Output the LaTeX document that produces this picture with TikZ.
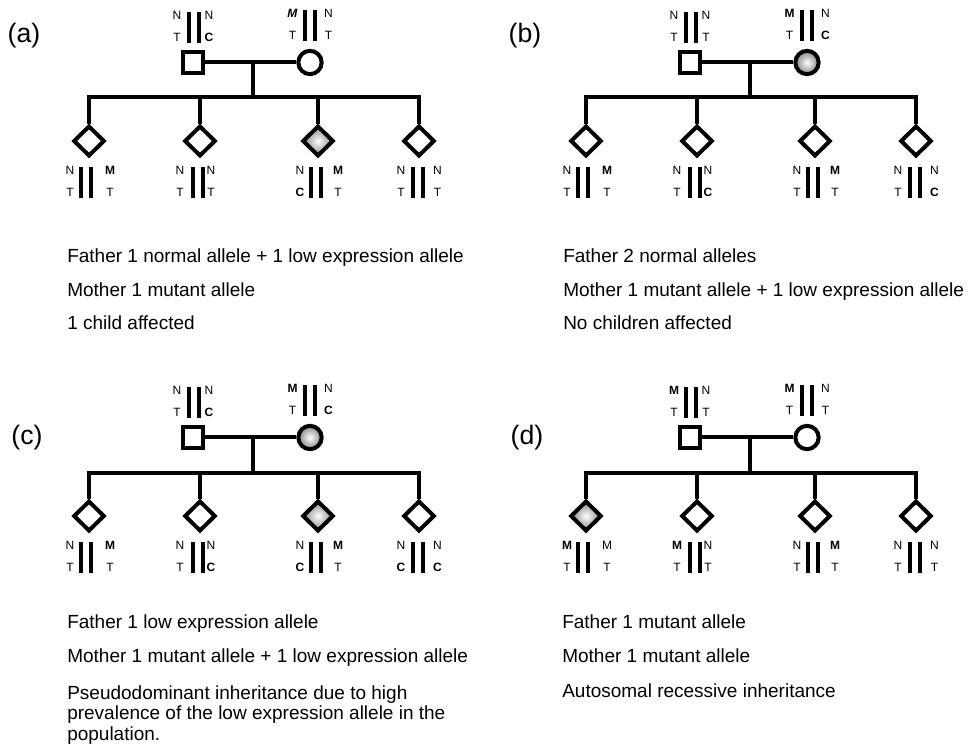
\documentclass[tikz,border=0pt]{standalone}
\usepackage{fontspec}
\setmainfont{Liberation Sans}
\usepackage{tikz}
\usetikzlibrary{positioning,shapes.geometric}

% chromosome pair: name, bar centre x, bar top y, left label x, right label x, TL, BL, TR, BR
\newcommand{\chrom}[9]{%
  \fill ({#2-7},#3) rectangle ({#2-3},{#3+31});
  \fill ({#2+3},#3) rectangle ({#2+7},{#3+31});
  \node[allele] (#1tl) at (#4,{#3+3.5}) {#6};
  \node[allele] (#1bl) at (#4,{#3+25.5}) {#7};
  \node[allele] (#1tr) at (#5,{#3+3.5}) {#8};
  \node[allele] (#1br) at (#5,{#3+25.5}) {#9};
}

\tikzset{
  male/.style={draw, line width=3pt, rectangle, minimum size=15.5pt, inner sep=0pt},
  female/.style={draw, line width=3pt, circle, minimum size=17.5pt, inner sep=0pt},
  child/.style={draw, line width=3pt, diamond, aspect=1, minimum width=23.5pt, minimum height=23pt, inner sep=0pt},
  affected/.style={inner color=white, outer color=gray!95},
  ped/.style={line width=3pt},
  allele/.style={font=\fontsize{9}{10}\selectfont, inner sep=0pt},
  note/.style={font=\fontsize{14.25}{15.6}\selectfont, anchor=base west, inner sep=0pt, align=left},
  panel/.style={font=\fontsize{20}{24}\selectfont, inner sep=0pt},
}

\begin{document}
\begin{tikzpicture}[x=0.75pt, y=-0.75pt]
    \useasboundingbox (0,0) rectangle (971,748);

    % panel (a)
    \node[panel] (aLabel) at (24,36) {(a)};
    \begin{scope}[shift={(0,0)}]
        \node[male] (aF) at (193,62.5) {};
        \node[female] (aM) at (310,62.5) {};
        \coordinate (aMid) at (253,62.5);
        \coordinate (aSib) at (253,97.5);
        \node[child] (aC1) at (89,141) {};
        \node[child] (aC2) at (200,141) {};
        \node[child, affected] (aC3) at (318,141) {};
        \node[child] (aC4) at (419,141) {};
        \draw[ped] (aF) -- (aM);
        \draw[ped] (aMid) -- (aSib);
        \draw[ped] (aC1) -- (aC1 |- aSib) -- (aC4 |- aSib) -- (aC4);
        \draw[ped] (aC2 |- aSib) -- (aC2);
        \draw[ped] (aC3 |- aSib) -- (aC3);
        \chrom{aFg}{194}{12}{177}{209}{N}{T}{N}{\textbf{C}}
        \chrom{aMg}{309.5}{10}{292.5}{328.5}{\textbf{\textit{M}}}{T}{N}{T}
        \chrom{aC1g}{85.5}{167}{70}{110}{N}{T}{\textbf{M}}{T}
        \chrom{aC2g}{197.5}{167}{180}{211}{N}{T}{N}{T}
        \chrom{aC3g}{315.5}{167}{300}{338}{N}{\textbf{C}}{\textbf{M}}{T}
        \chrom{aC4g}{418}{167}{401}{437.5}{N}{T}{N}{T}
    \end{scope}
    \node[note] (aText1) at (67,263) {Father 1 normal allele + 1 low expression allele};
    \node[note] (aText2) at (67,297) {Mother 1 mutant allele};
    \node[note] (aText3) at (67,330) {1 child affected};

    % panel (b)
    \node[panel] (bLabel) at (525,36) {(b)};
    \begin{scope}[shift={(497,0)}]
        \node[male] (bF) at (193,62.5) {};
        \node[female, affected] (bM) at (310,62.5) {};
        \coordinate (bMid) at (253,62.5);
        \coordinate (bSib) at (253,97.5);
        \node[child] (bC1) at (89,141) {};
        \node[child] (bC2) at (200,141) {};
        \node[child] (bC3) at (318,141) {};
        \node[child] (bC4) at (419,141) {};
        \draw[ped] (bF) -- (bM);
        \draw[ped] (bMid) -- (bSib);
        \draw[ped] (bC1) -- (bC1 |- bSib) -- (bC4 |- bSib) -- (bC4);
        \draw[ped] (bC2 |- bSib) -- (bC2);
        \draw[ped] (bC3 |- bSib) -- (bC3);
        \chrom{bFg}{194}{12}{177}{209}{N}{T}{N}{T}
        \chrom{bMg}{309.5}{10}{292.5}{328.5}{\textbf{M}}{T}{N}{\textbf{C}}
        \chrom{bC1g}{85.5}{167}{70}{110}{N}{T}{\textbf{M}}{T}
        \chrom{bC2g}{197.5}{167}{180}{211}{N}{T}{N}{\textbf{C}}
        \chrom{bC3g}{315.5}{167}{300}{338}{N}{T}{\textbf{M}}{T}
        \chrom{bC4g}{418}{167}{401}{437.5}{N}{T}{N}{\textbf{C}}
    \end{scope}
    \node[note] (bText1) at (563,263) {Father 2 normal alleles};
    \node[note] (bText2) at (563,297) {Mother 1 mutant allele + 1 low expression allele};
    \node[note] (bText3) at (563,330) {No children affected};

    % panel (c)
    \node[panel] (cLabel) at (27,438) {(c)};
    \begin{scope}[shift={(0,375)}]
        \node[male] (cF) at (193,62.5) {};
        \node[female, affected] (cM) at (310,62.5) {};
        \coordinate (cMid) at (253,62.5);
        \coordinate (cSib) at (253,97.5);
        \node[child] (cC1) at (89,141) {};
        \node[child] (cC2) at (200,141) {};
        \node[child, affected] (cC3) at (318,141) {};
        \node[child] (cC4) at (419,141) {};
        \draw[ped] (cF) -- (cM);
        \draw[ped] (cMid) -- (cSib);
        \draw[ped] (cC1) -- (cC1 |- cSib) -- (cC4 |- cSib) -- (cC4);
        \draw[ped] (cC2 |- cSib) -- (cC2);
        \draw[ped] (cC3 |- cSib) -- (cC3);
        \chrom{cFg}{194}{12}{177}{209}{N}{T}{N}{\textbf{C}}
        \chrom{cMg}{309.5}{10}{292.5}{328.5}{\textbf{M}}{T}{N}{\textbf{C}}
        \chrom{cC1g}{85.5}{167}{70}{110}{N}{T}{\textbf{M}}{T}
        \chrom{cC2g}{197.5}{167}{180}{211}{N}{T}{N}{\textbf{C}}
        \chrom{cC3g}{315.5}{167}{300}{338}{N}{\textbf{C}}{\textbf{M}}{T}
        \chrom{cC4g}{418}{167}{401}{437.5}{N}{\textbf{C}}{N}{\textbf{C}}
    \end{scope}
    \node[note] (cText1) at (67,628) {Father 1 low expression allele};
    \node[note] (cText2) at (67,662) {Mother 1 mutant allele + 1 low expression allele};
    \node[note, anchor=north west] (cText3) at (67,685) {Pseudodominant inheritance due to high\\prevalence of the low expression allele in the\\population.};

    % panel (d)
    \node[panel] (dLabel) at (527,438) {(d)};
    \begin{scope}[shift={(497,375)}]
        \node[male] (dF) at (193,62.5) {};
        \node[female] (dM) at (310,62.5) {};
        \coordinate (dMid) at (253,62.5);
        \coordinate (dSib) at (253,97.5);
        \node[child, affected] (dC1) at (89,141) {};
        \node[child] (dC2) at (200,141) {};
        \node[child] (dC3) at (318,141) {};
        \node[child] (dC4) at (419,141) {};
        \draw[ped] (dF) -- (dM);
        \draw[ped] (dMid) -- (dSib);
        \draw[ped] (dC1) -- (dC1 |- dSib) -- (dC4 |- dSib) -- (dC4);
        \draw[ped] (dC2 |- dSib) -- (dC2);
        \draw[ped] (dC3 |- dSib) -- (dC3);
        \chrom{dFg}{194}{12}{177}{209}{\textbf{M}}{T}{N}{T}
        \chrom{dMg}{309.5}{10}{292.5}{328.5}{\textbf{M}}{T}{N}{T}
        \chrom{dC1g}{85.5}{167}{70}{110}{\textbf{M}}{T}{M}{T}
        \chrom{dC2g}{197.5}{167}{180}{211}{\textbf{M}}{T}{N}{T}
        \chrom{dC3g}{315.5}{167}{300}{338}{N}{T}{\textbf{M}}{T}
        \chrom{dC4g}{418}{167}{401}{437.5}{N}{T}{N}{T}
    \end{scope}
    \node[note] (dText1) at (562,628) {Father 1 mutant allele};
    \node[note] (dText2) at (562,662) {Mother 1 mutant allele};
    \node[note] (dText3) at (562,697) {Autosomal recessive inheritance};
\end{tikzpicture}
\end{document}
